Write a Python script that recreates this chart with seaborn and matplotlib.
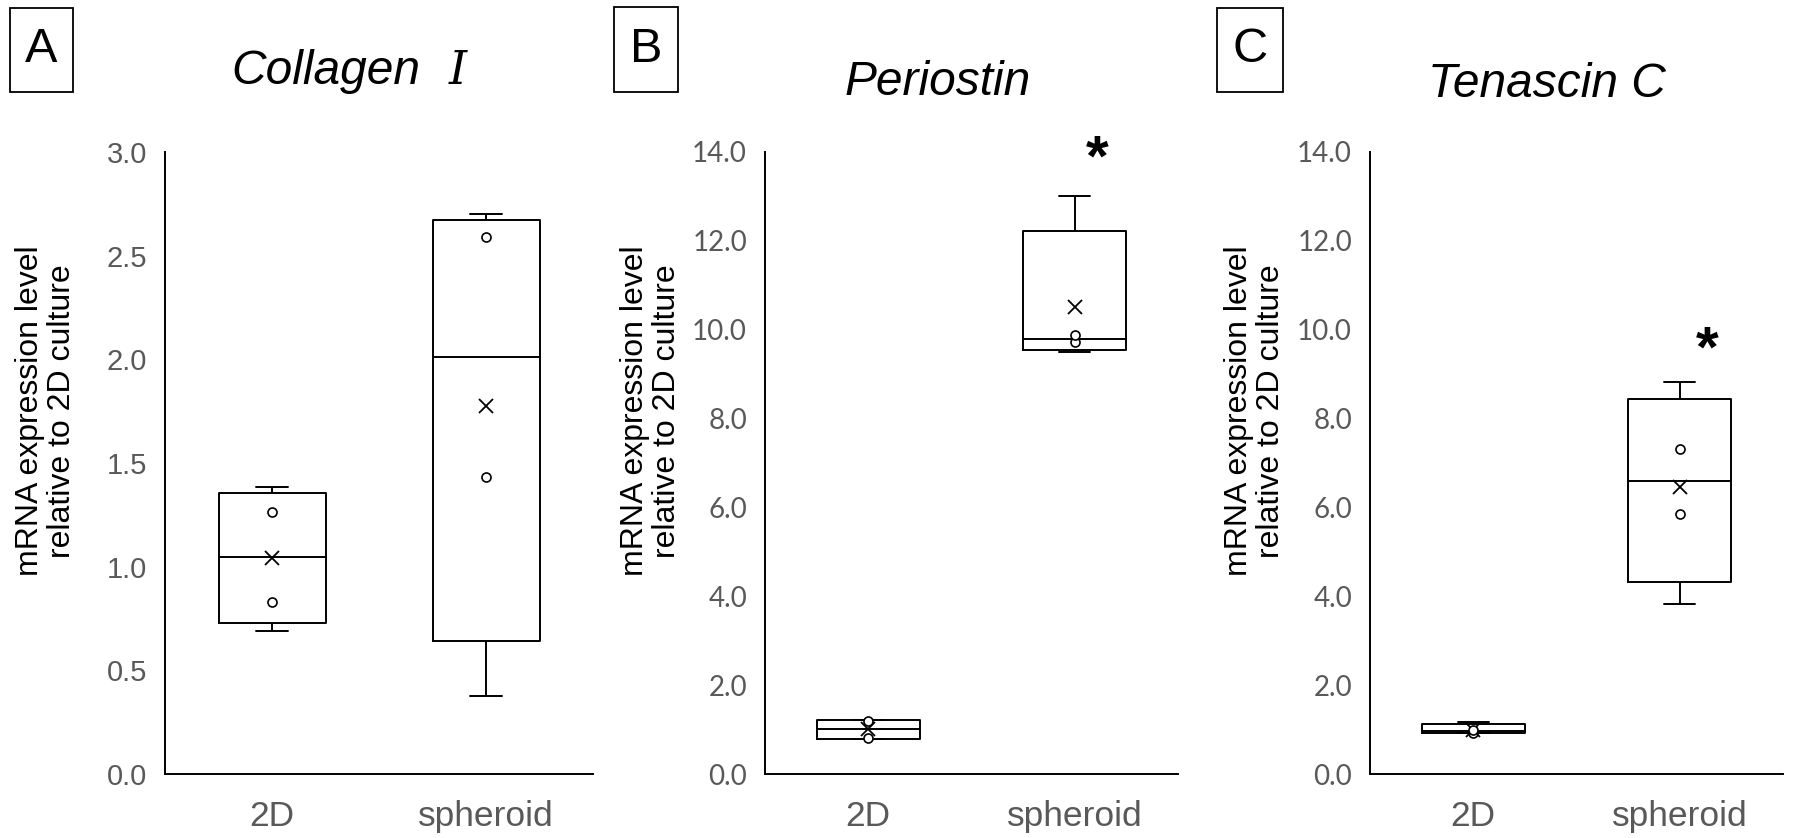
import numpy as np
import pandas as pd
import matplotlib
matplotlib.use("Agg")
import matplotlib as mpl
import matplotlib.pyplot as plt
import matplotlib.cbook as cbook
from matplotlib.patches import Rectangle
import seaborn as sns

# ---------------- data ----------------
groups = ["2D", "spheroid"]

collagen_2d = [0.691, 0.831, 1.266, 1.385]
collagen_sph = [0.378, 1.434, 2.591, 2.700]

periostin_2d = [0.79, 0.81, 1.20, 1.22]
periostin_sph = [9.49, 9.72, 9.88, 13.00]

tenascin_2d = [0.92, 0.93, 0.99, 1.16]
tenascin_sph = [3.82, 5.86, 7.31, 8.83]

titles = [("Collagen", "Ⅰ"), ("Periostin", None), ("Tenascin C", None)]
letters = ["A", "B", "C"]

yticks_a = [0.0, 0.5, 1.0, 1.5, 2.0, 2.5, 3.0]
yticks_bc = [0.0, 2.0, 4.0, 6.0, 8.0, 10.0, 12.0, 14.0]
ylabel = "mRNA expression level\nrelative to 2D culture"

# ---------------- Excel-style (exclusive) quartiles ----------------
_orig_stats = cbook.boxplot_stats


def _excel_stats(X, *args, **kwargs):
    stats = _orig_stats(X, *args, **kwargs)
    arr = np.asarray(X, dtype=float) if not isinstance(X, (list, tuple)) else None
    if arr is not None and arr.ndim == 1:
        datasets = [arr]
    else:
        datasets = [np.asarray(x, dtype=float).ravel() for x in X]
    for s, d in zip(stats, datasets):
        q1, q3 = np.percentile(d, [25, 75], method="weibull")
        s["q1"], s["q3"], s["iqr"] = q1, q3, q3 - q1
    return stats


mpl.cbook.boxplot_stats = _excel_stats

# ---------------- style ----------------
sns.set_theme(style="white")
plt.rcParams["font.family"] = ["Liberation Sans", "DejaVu Sans"]

W, H = 1796, 838
fig = plt.figure(figsize=(W / 100, H / 100), dpi=100)
fig.patch.set_facecolor("white")


def rect(l, r, t, b):
    return [l / W, 1 - b / H, (r - l) / W, (b - t) / H]


panels = [
    dict(data=(collagen_2d, collagen_sph), box=rect(165, 593, 152, 774), ymax=3.0,
         ticks=yticks_a, tickfont="Liberation Sans", ticksize=21, ylab_x=46,
         title_x=231, title_y=84, title_ha="left", sub_x=449,
         letter_box=(10, 73, 8, 92), star=None),
    dict(data=(periostin_2d, periostin_sph), box=rect(765, 1178, 152, 774), ymax=14.0,
         ticks=yticks_bc, tickfont="Lato", ticksize=20, ylab_x=651,
         title_x=938, title_y=95, title_ha="center", sub_x=None,
         letter_box=(614, 678, 7, 92), star=(1.108, 13.46)),
    dict(data=(tenascin_2d, tenascin_sph), box=rect(1370, 1783, 152, 774), ymax=14.0,
         ticks=yticks_bc, tickfont="Lato", ticksize=20, ylab_x=1255,
         title_x=1547, title_y=97, title_ha="center", sub_x=None,
         letter_box=(1217, 1283, 8, 92), star=(1.132, 9.16)),
]

grey = "#595959"
lw = 1.4

for i, p in enumerate(panels):
    ax = fig.add_axes(p["box"])
    v2d, vsph = p["data"]
    df = pd.DataFrame({
        "group": [groups[0]] * len(v2d) + [groups[1]] * len(vsph),
        "value": list(v2d) + list(vsph),
    })
    inner = pd.DataFrame({
        "group": [groups[0]] * (len(v2d) - 2) + [groups[1]] * (len(vsph) - 2),
        "value": sorted(v2d)[1:-1] + sorted(vsph)[1:-1],
    })

    sns.boxplot(data=df, x="group", y="value", order=groups, ax=ax,
                width=0.5, whis=(0, 100), fill=False, color="black",
                linewidth=lw, showfliers=False, capwidths=0.15,
                showmeans=True,
                meanprops=dict(marker="x", markeredgecolor="black",
                               markerfacecolor="black", markersize=10,
                               markeredgewidth=1.3))

    sns.stripplot(data=inner, x="group", y="value", order=groups, ax=ax,
                  jitter=False, color="white", edgecolor="black",
                  linewidth=1.2, size=6.5, zorder=4)

    ax.set_xlim(-0.5, 1.5)
    ax.set_ylim(0, p["ymax"])
    ax.set_yticks(p["ticks"])
    ax.set_yticklabels([f"{t:.1f}" for t in p["ticks"]],
                       fontfamily=p["tickfont"], fontsize=p["ticksize"], color=grey)
    ax.set_xticks([0, 1])
    ax.set_xticklabels(groups, fontsize=25.5, color=grey)
    ax.tick_params(axis="y", length=0, pad=13)
    ax.tick_params(axis="x", length=0, pad=19)
    ax.set_xlabel("")
    ax.set_ylabel("")
    sns.despine(ax=ax)
    for s in ("left", "bottom"):
        ax.spines[s].set_color("black")
        ax.spines[s].set_linewidth(lw)

    for line in ax.lines:
        if line.get_marker() in (None, "None", "", " "):
            line.set_color("black")

    if p["star"] is not None:
        ax.text(p["star"][0], p["star"][1], "*", fontsize=42, fontweight="bold",
                ha="center", va="baseline", color="black", clip_on=False)

    # y label
    fig.text(p["ylab_x"] / W, 1 - 411 / H, ylabel, rotation=90, ha="center",
             va="center", fontsize=23, color="black", linespacing=1.1,
             multialignment="center")

    # title
    main, sub = titles[i]
    fig.text(p["title_x"] / W, 1 - p["title_y"] / H, main, fontsize=34.5,
             style="italic", ha=p["title_ha"], va="baseline", color="black")
    if sub is not None:
        fig.text(p["sub_x"] / W, 1 - p["title_y"] / H, sub, fontsize=33,
                 style="italic", ha="left", va="baseline", color="black",
                 family=["DejaVu Serif", "DejaVu Sans"], fontweight="light")

    # panel letter box
    l, r, t, b = p["letter_box"]
    fig.add_artist(Rectangle((l / W, 1 - b / H), (r - l) / W, (b - t) / H,
                             transform=fig.transFigure, fill=False,
                             edgecolor="black", linewidth=1.3))
    fig.text((l + r) / 2 / W, 1 - (t + b) / 2 / H, letters[i], fontsize=35,
             ha="center", va="center", color="black")

fig.savefig("out.png", dpi=100, facecolor="white")
